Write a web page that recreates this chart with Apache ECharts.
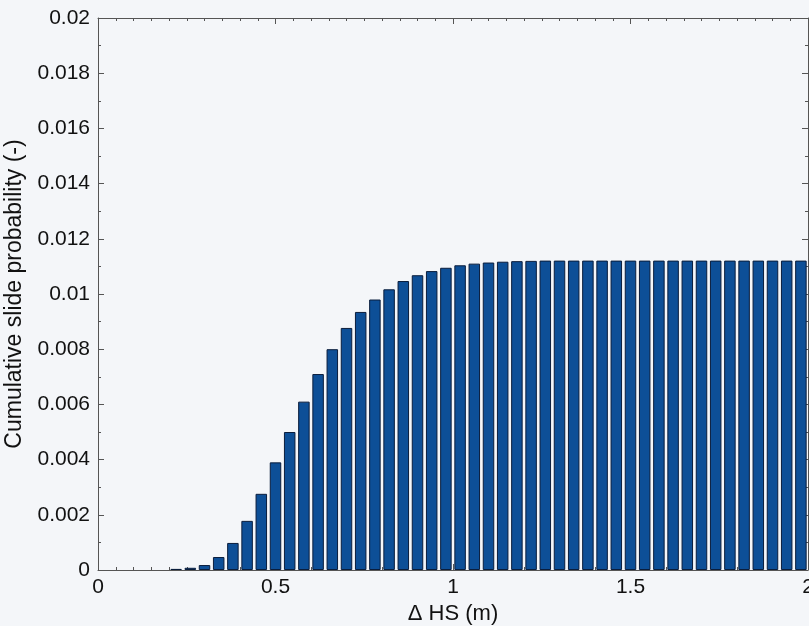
<!DOCTYPE html>
<html>
<head>
<meta charset="utf-8">
<script src="https://cdn.jsdelivr.net/npm/echarts@6/dist/echarts.min.js"></script>
<style>
  html, body { margin: 0; padding: 0; background: #f4f6f9; }
  #chart { width: 809px; height: 626px; }
</style>
</head>
<body>
<div id="chart"></div>
<script>
// bar centres (ΔHS, m)
var hsCentres = [
  0.02, 0.06, 0.10, 0.14, 0.18, 0.22, 0.26, 0.30, 0.34, 0.38,
  0.42, 0.46, 0.50, 0.54, 0.58, 0.62, 0.66, 0.70, 0.74, 0.78,
  0.82, 0.86, 0.90, 0.94, 0.98, 1.02, 1.06, 1.10, 1.14, 1.18,
  1.22, 1.26, 1.30, 1.34, 1.38, 1.42, 1.46, 1.50, 1.54, 1.58,
  1.62, 1.66, 1.70, 1.74, 1.78, 1.82, 1.86, 1.90, 1.94, 1.98
];
// cumulative slide probability
var slideProb = [
  0, 0, 0, 0, 0, 0.00004, 0.00008, 0.00018, 0.00047, 0.00098,
  0.00178, 0.00276, 0.0039, 0.0050, 0.0061, 0.0071, 0.0080, 0.00877, 0.00935, 0.0098,
  0.01017, 0.01047, 0.01068, 0.01083, 0.01095, 0.01104, 0.01110, 0.01114, 0.01117, 0.01119,
  0.0112, 0.01121, 0.01121, 0.01121, 0.01121, 0.01121, 0.01121, 0.01121, 0.01121, 0.01121,
  0.01121, 0.01121, 0.01121, 0.01121, 0.01121, 0.01121, 0.01121, 0.01121, 0.01121, 0.01121
];

// zero bars get no outline so they don't draw a stub on the baseline
var barData = hsCentres.map(function (x, i) {
  var p = { value: [x, slideProb[i]] };
  if (slideProb[i] === 0) p.itemStyle = { borderWidth: 0, opacity: 0 };
  return p;
});

var font = 'Liberation Sans, Arial, sans-serif';
var axisCol = '#555';

function boxAxis(pos, min, max, interval, minorSplit) {
  return {
    type: 'value',
    position: pos,
    min: min, max: max, interval: interval,
    axisLine: { show: true, onZero: false, lineStyle: { color: axisCol } },
    axisTick: { inside: true, length: 6, lineStyle: { color: axisCol } },
    minorTick: { show: true, splitNumber: minorSplit, length: 3, lineStyle: { color: axisCol } },
    axisLabel: { show: false },
    splitLine: { show: false }
  };
}

var chart = echarts.init(document.getElementById('chart'));
chart.setOption({
  backgroundColor: '#f4f6f9',
  animation: false,
  grid: { left: 98, right: 1, top: 18, bottom: 56, outerBoundsMode: 'none' },
  xAxis: [{
    type: 'value',
    position: 'bottom',
    min: 0, max: 2, interval: 0.5,
    name: '\u0394 HS (m)',
    nameLocation: 'middle',
    nameGap: 30,
    nameTextStyle: { fontFamily: font, fontSize: 22, color: '#111' },
    axisLine: { onZero: false, lineStyle: { color: axisCol } },
    axisTick: { inside: true, length: 6, lineStyle: { color: axisCol } },
    minorTick: { show: true, splitNumber: 10, length: 3, lineStyle: { color: axisCol } },
    axisLabel: { fontFamily: font, fontSize: 21, color: '#111', margin: 7,
      formatter: function (v) { return String(v); } },
    splitLine: { show: false }
  }, boxAxis('top', 0, 2, 0.5, 10)],
  yAxis: [{
    type: 'value',
    position: 'left',
    min: 0, max: 0.02, interval: 0.002,
    name: 'Cumulative slide probability (-)',
    nameLocation: 'middle',
    nameGap: 63,
    nameTextStyle: { fontFamily: font, fontSize: 23, color: '#111' },
    axisLine: { show: true, onZero: false, lineStyle: { color: axisCol } },
    axisTick: { inside: true, length: 6, lineStyle: { color: axisCol } },
    minorTick: { show: true, splitNumber: 2, length: 3, lineStyle: { color: axisCol } },
    axisLabel: { fontFamily: font, fontSize: 21, color: '#111', margin: 8,
      formatter: function (v) { return String(+v.toFixed(3)); } },
    splitLine: { show: false }
  }, boxAxis('right', 0, 0.02, 0.002, 2)],
  series: [{
    type: 'bar',
    xAxisIndex: 0,
    yAxisIndex: 0,
    barWidth: 11.5,
    data: barData,
    itemStyle: { color: '#0d4f97', borderColor: '#0a1d3c', borderWidth: 1 }
  }]
});
</script>
</body>
</html>
